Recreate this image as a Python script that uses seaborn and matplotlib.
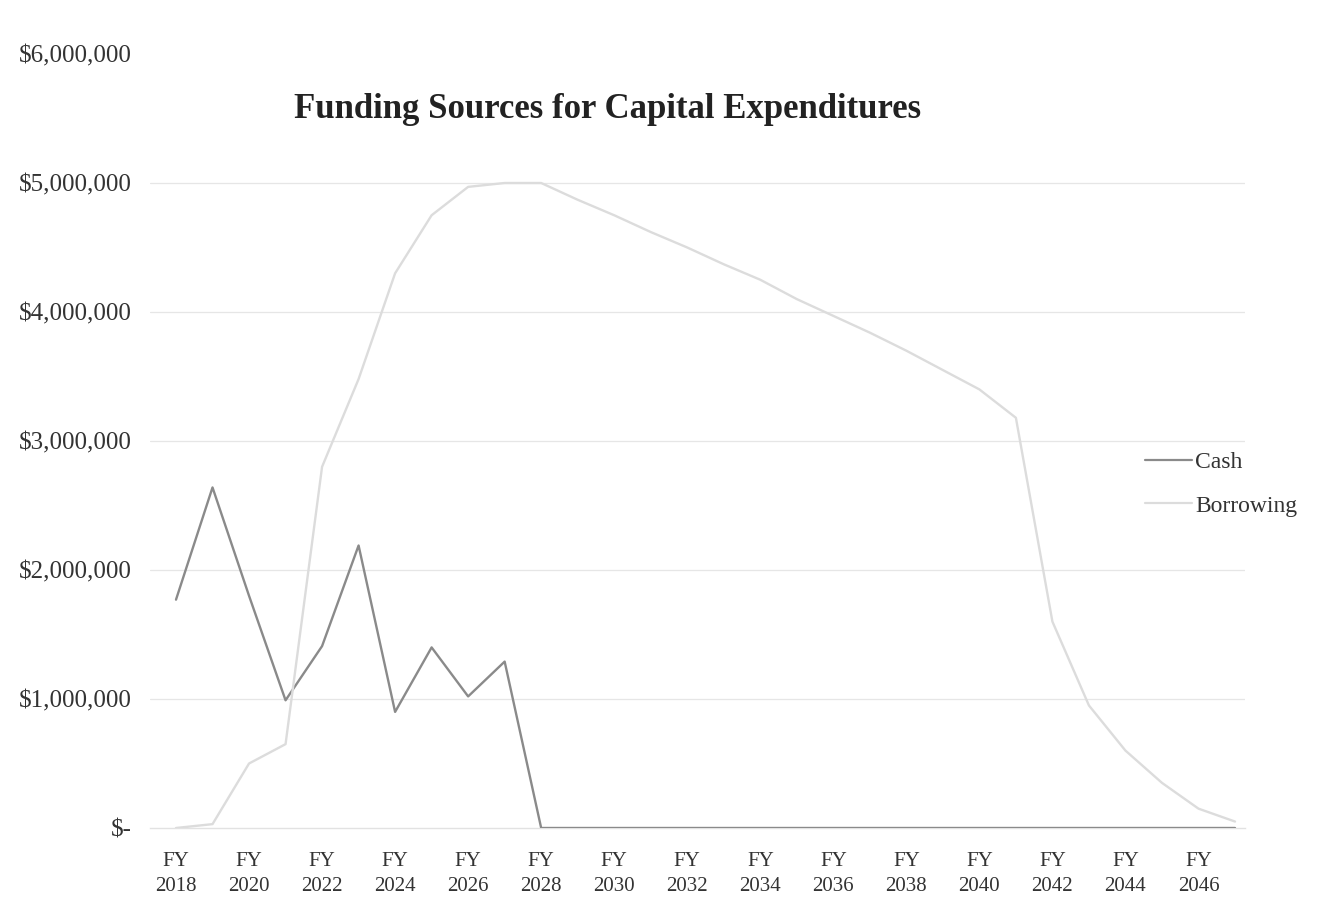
import matplotlib
matplotlib.use("Agg")
import matplotlib.pyplot as plt
import seaborn as sns
import pandas as pd
from matplotlib.ticker import FixedLocator, FuncFormatter
from matplotlib.lines import Line2D

years = list(range(2018, 2048))
cash = [1.77, 2.64, 1.80, 0.99, 1.41, 2.19, 0.90, 1.40, 1.02, 1.29,
        0, 0, 0, 0, 0, 0, 0, 0, 0, 0,
        0, 0, 0, 0, 0, 0, 0, 0, 0, 0]
borrowing = [0.00, 0.03, 0.50, 0.65, 2.80, 3.48, 4.30, 4.75, 4.97, 5.00,
             5.00, 4.87, 4.75, 4.62, 4.50, 4.37, 4.25, 4.10, 3.97, 3.84,
             3.70, 3.55, 3.40, 3.18, 1.60, 0.95, 0.60, 0.35, 0.15, 0.05]
series_names = ["Cash", "Borrowing"]
tick_years = list(range(2018, 2047, 2))
y_ticks = [0, 1e6, 2e6, 3e6, 4e6, 5e6, 6e6]
title = "Funding Sources for Capital Expenditures"

df = pd.concat([
    pd.DataFrame({"year": years, "value": [v * 1e6 for v in cash], "series": series_names[0]}),
    pd.DataFrame({"year": years, "value": [v * 1e6 for v in borrowing], "series": series_names[1]}),
])

sns.set_theme(style="white")
plt.rcParams["font.family"] = ["Liberation Serif", "DejaVu Serif"]

W, H = 1321, 905
fig = plt.figure(figsize=(W / 100, H / 100), dpi=100)
left_px, right_px = 150, 1245
top_px, bot_px = 54, 828
ax = fig.add_axes([left_px / W, 1 - bot_px / H, (right_px - left_px) / W, (bot_px - top_px) / H])

colors = ["#8a8a8a", "#dcdcdc"]
sns.lineplot(data=df, x="year", y="value", hue="series", palette=colors,
             linewidth=1.7, ax=ax, legend=False, zorder=3)

ppy = (1235 - 176) / 29
ax.set_xlim(2018 - (176 - left_px) / ppy, 2047 + (right_px - 1235) / ppy)
ax.set_ylim(0, 6e6)

ax.yaxis.set_major_locator(FixedLocator(y_ticks))
ax.yaxis.set_major_formatter(FuncFormatter(lambda v, p: "$-" if v == 0 else f"${v:,.0f}"))
ax.xaxis.set_major_locator(FixedLocator(tick_years))
ax.xaxis.set_major_formatter(FuncFormatter(lambda v, p: f"FY\n{int(round(v))}"))
ax.tick_params(axis="y", labelsize=18, colors="#333333", length=0, pad=13)
ax.tick_params(axis="x", labelsize=15, colors="#333333", length=0, pad=17)
for lbl in ax.get_xticklabels():
    lbl.set_linespacing(1.45)

for v in y_ticks[1:-1]:
    ax.axhline(v, color="#e6e6e6", linewidth=0.9, zorder=1)
ax.grid(False)
for s in ["top", "right", "left"]:
    ax.spines[s].set_visible(False)
ax.spines["bottom"].set_color("#e2e2e2")
ax.spines["bottom"].set_linewidth(1.0)
ax.set_xlabel("")
ax.set_ylabel("")

fig.text(608 / W, 1 - 110 / H, title, ha="center", va="center",
         fontsize=25, fontweight="bold", color="#222222")

handles = [Line2D([], [], color=colors[0], linewidth=1.6),
           Line2D([], [], color=colors[1], linewidth=1.6)]
fig.legend(handles, series_names, loc="upper left",
           bbox_to_anchor=(1124 / W, 1 - 430 / H), frameon=False,
           fontsize=17, handlelength=2.0, handletextpad=0.12, labelspacing=0.95,
           labelcolor="#333333")

fig.savefig("out.png", dpi=100, facecolor="white")
